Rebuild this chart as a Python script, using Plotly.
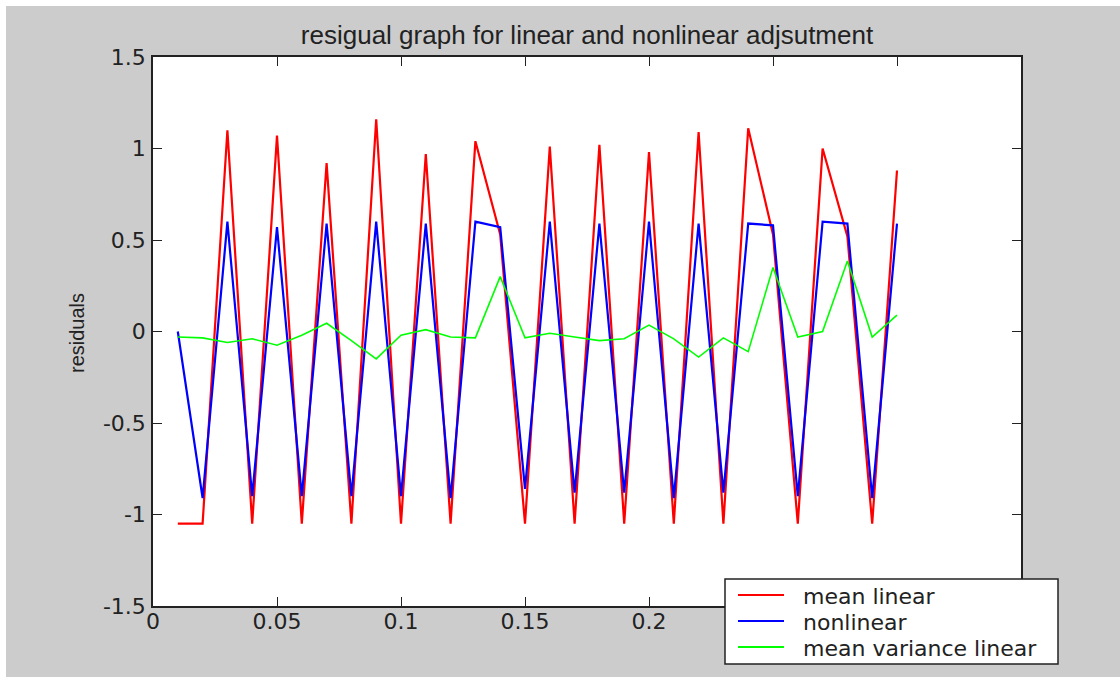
import plotly.graph_objects as go

# Sample positions (s)
x_vals = [0.01, 0.02, 0.03, 0.04, 0.05, 0.06, 0.07, 0.08, 0.09, 0.10,
          0.11, 0.12, 0.13, 0.14, 0.15, 0.16, 0.17, 0.18, 0.19, 0.20,
          0.21, 0.22, 0.23, 0.24, 0.25, 0.26, 0.27, 0.28, 0.29, 0.30]

# Residuals of the mean linear adjustment
mean_linear = [-1.05, -1.05, 1.10, -1.05, 1.07, -1.05, 0.92, -1.05, 1.16, -1.05,
               0.97, -1.05, 1.04, 0.53, -1.05, 1.01, -1.05, 1.02, -1.05, 0.98,
               -1.05, 1.09, -1.05, 1.11, 0.53, -1.05, 1.00, 0.52, -1.05, 0.88]

# Residuals of the nonlinear adjustment
nonlinear = [0.00, -0.91, 0.60, -0.90, 0.57, -0.90, 0.59, -0.90, 0.60, -0.90,
             0.59, -0.91, 0.60, 0.57, -0.86, 0.60, -0.88, 0.59, -0.88, 0.60,
             -0.91, 0.59, -0.88, 0.59, 0.58, -0.90, 0.60, 0.59, -0.91, 0.59]

# Residuals of the mean-variance linear adjustment
mean_variance_linear = [-0.03, -0.035, -0.06, -0.04, -0.075, -0.02, 0.045, -0.05, -0.15, -0.02,
                        0.01, -0.03, -0.035, 0.30, -0.035, -0.01, -0.03, -0.05, -0.04, 0.035,
                        -0.04, -0.14, -0.035, -0.11, 0.35, -0.03, 0.00, 0.385, -0.03, 0.09]

series_names = ["mean linear", "nonlinear", "mean variance linear"]
series_colors = ["#ff0000", "#0000ff", "#00ff00"]

# x tick labels under the legend box are left blank
x_ticks = [0, 0.05, 0.1, 0.15, 0.2, 0.25, 0.3, 0.35]
x_ticktext = ["0", "0.05", "0.1", "0.15", "0.2", "", "", ""]
y_ticks = [-1.5, -1, -0.5, 0, 0.5, 1, 1.5]
y_ticktext = ["-1.5", "-1", "-0.5", "0", "0.5", "1", "1.5"]

W, H = 1120, 677
L, R, T, B = 153, 99, 57, 71
pw, ph = W - L - R, H - T - B
INK = "#222222"


def px_x(p):
    return (p - L) / pw


def px_y(p):
    return (H - B - p) / ph


fig = go.Figure()
series = [mean_linear, nonlinear, mean_variance_linear]
widths = [2.2, 2.2, 1.6]
for name, color, ys, w in zip(series_names, series_colors, series, widths):
    fig.add_trace(go.Scatter(x=x_vals, y=ys, mode="lines", name=name,
                             line=dict(color=color, width=w), showlegend=False))

axis_common = dict(
    showgrid=False, zeroline=False, showline=True, linecolor=INK, linewidth=1.5,
    mirror="ticks", ticks="inside", ticklen=9, tickwidth=1.2, tickcolor=INK,
    tickfont=dict(family="DejaVu Sans", size=22, color=INK),
)

fig.update_xaxes(range=[0, 0.35], tickvals=x_ticks, ticktext=x_ticktext,
                 ticklabelstandoff=-5, **axis_common)
fig.update_yaxes(range=[-1.5, 1.5], tickvals=y_ticks, ticktext=y_ticktext,
                 ticklabelstandoff=1, **axis_common)

# Legend box drawn at the lower right, overlapping the axes frame
shapes = [
    dict(type="rect", xref="paper", yref="paper", x0=px_x(0), x1=px_x(6),
         y0=px_y(H), y1=px_y(0), fillcolor="#ffffff", line=dict(width=0), layer="below"),
    dict(type="rect", xref="paper", yref="paper", x0=px_x(0), x1=px_x(W),
         y0=px_y(6), y1=px_y(0), fillcolor="#ffffff", line=dict(width=0), layer="below"),
    dict(type="rect", xref="paper", yref="paper", x0=px_x(725), x1=px_x(1058),
         y0=px_y(664), y1=px_y(579), fillcolor="#ffffff",
         line=dict(color=INK, width=1.5), layer="above"),
]
annotations = [dict(text="residuals", xref="paper", yref="paper",
                    x=px_x(77), y=px_y(333), xanchor="center", yanchor="middle",
                    textangle=-90, showarrow=False,
                    font=dict(family="Liberation Sans", size=20, color=INK))]

row_y = [595, 621, 647]
for name, color, ry in zip(series_names, series_colors, row_y):
    shapes.append(dict(type="line", xref="paper", yref="paper",
                       x0=px_x(738), x1=px_x(784), y0=px_y(ry), y1=px_y(ry),
                       line=dict(color=color, width=2), layer="above"))
    annotations.append(dict(text=name, xref="paper", yref="paper",
                            x=px_x(801), y=px_y(ry + 1), xanchor="left", yanchor="middle",
                            showarrow=False,
                            font=dict(family="DejaVu Sans", size=22, color=INK)))

fig.update_layout(
    width=W, height=H, autosize=False,
    margin=dict(l=L, r=R, t=T, b=B, pad=0),
    paper_bgcolor="#cccccc", plot_bgcolor="#ffffff",
    title=dict(text="resigual graph for linear and nonlinear adjsutment",
               font=dict(family="Liberation Sans", size=26, color=INK),
               x=(L + pw / 2) / W, xanchor="center",
               y=1 - 35 / H, yanchor="middle"),
    showlegend=False,
    annotations=annotations,
    shapes=shapes,
)

fig.write_html("out.html")
